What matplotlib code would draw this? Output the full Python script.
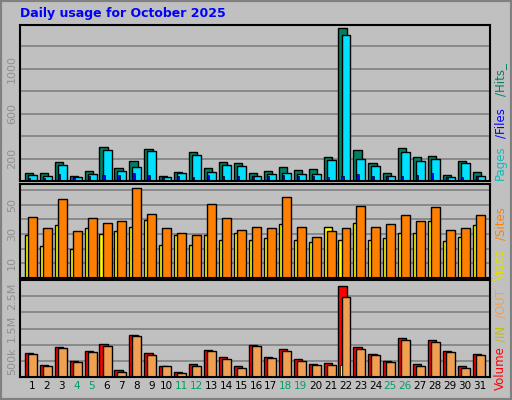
import numpy as np
import matplotlib
matplotlib.use("Agg")
import matplotlib.pyplot as plt
from matplotlib.patches import Rectangle

days = np.arange(1, 32)
weekend = [4, 5, 11, 12, 18, 19, 25, 26]

hits = [75, 75, 173, 48, 93, 299, 119, 182, 281, 48, 84, 254, 119, 173, 164, 75,
        93, 128, 101, 110, 218, 1364, 272, 164, 75, 290, 218, 227, 57, 182, 84]
files = [51, 42, 146, 33, 66, 272, 93, 128, 263, 39, 75, 236, 84, 146, 137, 42,
         66, 75, 66, 66, 191, 1301, 200, 137, 48, 254, 182, 200, 39, 164, 48]
pages = [25, 25, 60, 33, 42, 51, 51, 69, 51, 33, 42, 33, 51, 42, 42, 42,
         42, 51, 42, 42, 33, 42, 60, 42, 48, 42, 51, 69, 39, 33, 48]

sites = [41.6, 34, 53.7, 31.9, 41, 37.4, 38.8, 61, 43.7, 34, 30.5, 29, 50.7, 41, 32.6, 34.6,
         34, 54.9, 34.6, 27.7, 31.9, 34, 49.3, 34.6, 36.7, 43, 38.8, 48.6, 32.6, 34, 43]
visits = [29, 22, 36, 20, 34, 29.8, 32, 34.6, 39.5, 22.8, 29, 22.8, 29, 25.6, 30.5, 25.6,
          27, 36.7, 25.6, 24.2, 34.6, 25.6, 37.4, 25.6, 27, 30.5, 30.5, 38.8, 24.9, 27.7, 36]

volume = [729, 385, 917, 510, 792, 1010, 229, 1292, 729, 354, 167, 417, 823, 604, 354, 979,
          604, 854, 542, 417, 448, 2823, 917, 698, 510, 1198, 417, 1135, 792, 354, 698]
kb_out = [698, 354, 885, 479, 760, 948, 167, 1260, 667, 354, 135, 354, 792, 542, 292, 948,
          573, 792, 510, 385, 385, 2479, 854, 667, 479, 1135, 354, 1073, 760, 292, 667]
kb_in = [40] * 21 + [385] + [40] * 9

bg = '#c0c0c0'
fig = plt.figure(figsize=(5.12, 4.0), dpi=100, facecolor=bg)
fig.patches.append(Rectangle((0, 0), 1, 1, transform=fig.transFigure, fill=False,
                             edgecolor='#808080', lw=3))

def panel(rect, ymax, ticks, labels):
    ax = fig.add_axes(rect, facecolor=bg)
    ax.set_xlim(0.2, 31.67)
    ax.set_ylim(0, ymax)
    ax.set_xticks([])
    ax.set_yticks(ticks)
    ax.set_yticklabels(labels, rotation=90, va='center', color='#909090', fontsize=8)
    ax.tick_params(axis='y', length=0, pad=2)
    for t in ticks:
        ax.axhline(t, color='#808080', lw=1.2, zorder=0)
    for s in ax.spines.values():
        s.set_color('black')
        s.set_linewidth(1.5)
    return ax

ax1 = panel([0.039, 0.5475, 0.918, 0.39], 1390, [200, 400, 600, 800, 1000, 1200],
            ['200', '', '600', '', '1000', ''])
ax1.bar(days - 0.2, hits, width=0.55, color='#008060', edgecolor='black', lw=1)
ax1.bar(days + 0.03, files, width=0.6, color='#00e0ff', edgecolor='black', lw=1)
ax1.bar(days - 0.2, pages, width=0.15, color='#0000ff', edgecolor='black', lw=0.5)

ax2 = panel([0.039, 0.305, 0.918, 0.235], 64, [10, 20, 30, 40, 50, 60],
            ['10', '', '30', '', '50', ''])
ax2.bar(days - 0.2, visits, width=0.55, color='#ffff00', edgecolor='black', lw=1)
ax2.bar(days + 0.03, sites, width=0.6, color='#ff8000', edgecolor='black', lw=1)

ax3 = panel([0.039, 0.0575, 0.918, 0.2425], 3000, [500, 1000, 1500, 2000, 2500],
            ['500k', '', '1.5M', '', '2.5M'])
ax3.bar(days - 0.2, volume, width=0.55, color='#ff0000', edgecolor='black', lw=1)
ax3.bar(days + 0.03, kb_out, width=0.6, color='#f0a050', edgecolor='black', lw=1)
ax3.bar(days - 0.33, kb_in, width=0.12, color='#ffff00', edgecolor='black', lw=0.5)

for d in days:
    ax3.text(d, -130, str(d), ha='center', va='top', fontsize=7.5,
             color='#00a060' if d in weekend else 'black')

fig.text(0.039, 0.965, 'Daily usage for October 2025', color='#0000ff',
         fontsize=9, fontweight='bold', va='center')

# right-side legend pieces, bottom to top
def side(x, y, s, c):
    fig.text(x, y, s, color=c, rotation=90, fontsize=8.5, ha='center', va='bottom')

side(0.978, 0.55, 'Pages', '#00c0c0')
side(0.978, 0.655, '/Files', '#0000ff')
side(0.978, 0.76, '/Hits_', '#008060')
side(0.978, 0.025, 'Volume', '#ff0000')
side(0.978, 0.145, '/IN', '#c0c000')
side(0.978, 0.205, '/OUT', '#f0a050')
side(0.978, 0.30, 'Visits', '#e0e000')
side(0.978, 0.40, '/Sites', '#ff8000')

fig.savefig('out.png', dpi=100, facecolor=bg)
